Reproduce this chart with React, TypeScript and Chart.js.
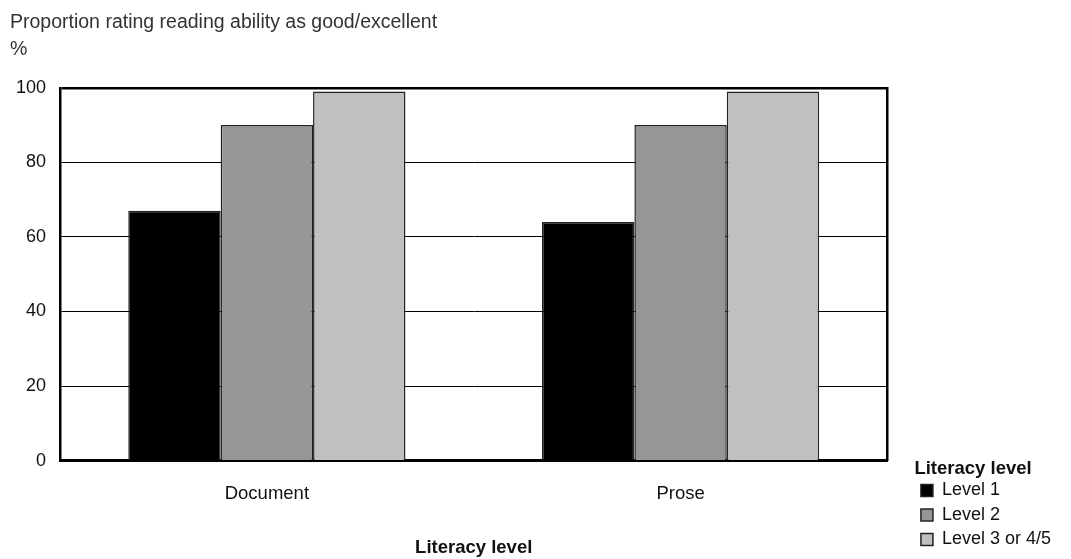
import React, { useEffect, useRef } from "react";
import { Chart, registerables } from "chart.js";

Chart.register(...registerables);

const categories = ["Document", "Prose"];
const seriesNames = ["Level 1", "Level 2", "Level 3 or 4/5"];
const level1 = [67, 64];
const level2 = [90, 90];
const level3 = [99, 99];
const seriesColors = ["#000000", "#969696", "#c0c0c0"];
const yTicks = [0, 20, 40, 60, 80, 100];
const chartTitle = ["Proportion rating reading ability as good/excellent", "%"];
const xTitle = "Literacy level";
const legendTitle = "Literacy level";

const FONT = '"Liberation Sans", Arial, sans-serif';

export default function App() {
  const ref = useRef<HTMLCanvasElement>(null);
  useEffect(() => {
    document.body.style.margin = "0";
    const data = [level1, level2, level3];
    const chart = new Chart(ref.current!, {
      type: "bar",
      data: {
        labels: categories,
        datasets: seriesNames.map((name, i) => ({
          label: name,
          data: data[i],
          backgroundColor: seriesColors[i],
          borderColor: "#222",
          borderWidth: 1.5,
          categoryPercentage: 0.67,
          barPercentage: 1,
          yAxisID: "y",
        })),
      },
      options: {
        animation: false,
        responsive: false,
        maintainAspectRatio: false,
        layout: { padding: { left: 10, right: 10, top: 9, bottom: 4 } },
        plugins: {
          title: {
            display: true,
            text: chartTitle,
            align: "start",
            color: "#333",
            font: { family: FONT, size: 19.5, weight: "normal", lineHeight: 1.38 },
            padding: { top: 0, bottom: 25 },
          },
          legend: {
            position: "right",
            align: "end",
            title: {
              display: true,
              text: legendTitle,
              position: "start",
              color: "#111",
              font: { family: FONT, size: 18.5, weight: "bold", lineHeight: 1.0 },
              padding: { top: 0, bottom: -3 },
            },
            labels: {
              color: "#111",
              boxWidth: 12,
              boxHeight: 12,
              padding: 6.5,
              font: { family: FONT, size: 18 },
              generateLabels(chart: any) {
                return chart.data.datasets.map((ds: any, i: number) => ({
                  text: ds.label,
                  fillStyle: ds.backgroundColor,
                  strokeStyle: "#222",
                  lineWidth: 1.5,
                  datasetIndex: i,
                  fontColor: "#111",
                }));
              },
            },
          },
          tooltip: { enabled: false },
        },
        scales: {
          x: {
            grid: { display: false, drawTicks: false },
            border: { display: true, color: "#000", width: 3 },
            ticks: { color: "#111", padding: 22, font: { family: FONT, size: 18.5 } },
            title: {
              display: true,
              text: xTitle,
              color: "#111",
              font: { family: FONT, size: 18.5, weight: "bold" },
              padding: { top: 10, bottom: -4 },
            },
          },
          y: {
            min: 0,
            max: 100,
            afterBuildTicks(axis: any) {
              axis.ticks = yTicks.map((v) => ({ value: v }));
            },
            afterFit(axis: any) {
              axis.width = 50;
            },
            grid: {
              color: "#000",
              lineWidth: (c: any) => (c.tick && c.tick.value === 100 ? 2.5 : 1),
              drawTicks: false,
            },
            border: { display: true, color: "#000", width: 2.5 },
            ticks: { color: "#111", padding: 14, font: { family: FONT, size: 18 } },
          },
          yRight: {
            position: "right",
            min: 0,
            max: 100,
            afterFit(axis: any) {
              axis.width = 27;
            },
            grid: { display: false, drawTicks: false },
            border: { display: true, color: "#000", width: 2.5 },
            ticks: { display: false },
          },
        },
      },
    } as any);
    return () => chart.destroy();
  }, []);
  return (
    <div style={{ width: 1071, height: 559 }}>
      <canvas ref={ref} width={1071} height={559} style={{ display: "block" }} />
    </div>
  );
}
